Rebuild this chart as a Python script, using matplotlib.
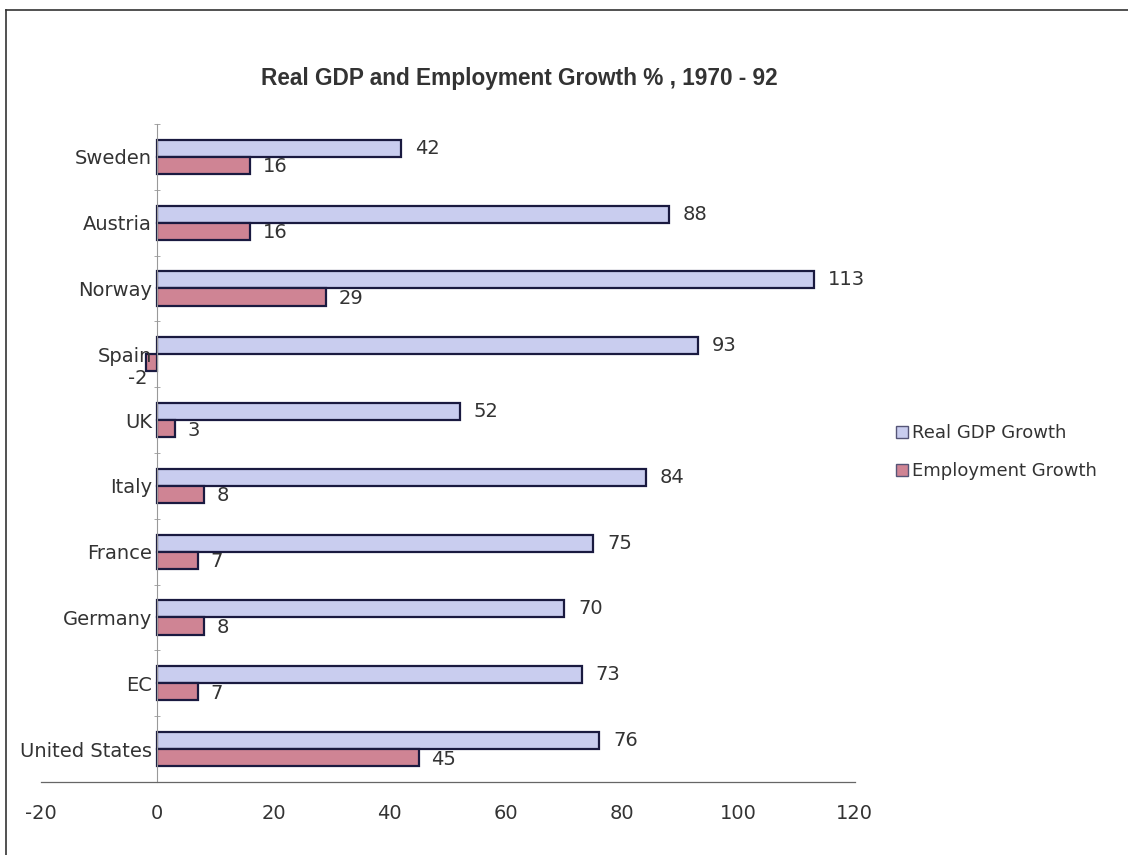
import matplotlib.pyplot as plt
import numpy as np
from matplotlib.lines import Line2D

countries = ['Sweden', 'Austria', 'Norway', 'Spain', 'UK', 'Italy',
             'France', 'Germany', 'EC', 'United States']
gdp_growth = [42, 88, 113, 93, 52, 84, 75, 70, 73, 76]
emp_growth = [16, 16, 29, -2, 3, 8, 7, 8, 7, 45]
x_ticks = [-20, 0, 20, 40, 60, 80, 100, 120]

plt.rcParams['font.family'] = ['DejaVu Sans']

fig = plt.figure(figsize=(11.28, 8.55), dpi=100)
ax = fig.add_axes([0.0364, 0.0854, 0.7214, 0.7696])

# spine position first: moving it resets the ticks
for s in ['top', 'right']:
    ax.spines[s].set_visible(False)
ax.spines['left'].set_position(('data', 0))
ax.spines['left'].set_color('#999999')
ax.spines['left'].set_linewidth(0.8)
ax.spines['bottom'].set_linestyle((0, (1.5, 1)))
ax.spines['bottom'].set_color('#666666')
ax.spines['bottom'].set_linewidth(0.9)

n = len(countries)
y = np.arange(n)[::-1]  # Sweden on top
h = 0.26

gdp_col = '#c9cdef'
emp_col = '#cf8494'
edge = '#1a1a40'

ax.barh(y + h / 2, gdp_growth, height=h, color=gdp_col, edgecolor=edge, linewidth=1.6)
ax.barh(y - h / 2, emp_growth, height=h, color=emp_col, edgecolor=edge, linewidth=1.6)

txt = '#333333'
for yi, v in zip(y, gdp_growth):
    ax.annotate(str(v), (v, yi + h / 2), xytext=(10, 0), textcoords='offset points',
                va='center', ha='left', fontsize=14, color=txt)
for yi, v in zip(y, emp_growth):
    if v < 0:
        ax.annotate(str(v), (v, yi - h / 2), xytext=(-6, -11), textcoords='offset points',
                    va='center', ha='center', fontsize=14, color=txt)
    else:
        ax.annotate(str(v), (v, yi - h / 2), xytext=(9, -1), textcoords='offset points',
                    va='center', ha='left', fontsize=14, color=txt)

ax.set_xlim(-20, 120)
ax.set_ylim(-0.5, n - 0.5)
ax.set_xticks(x_ticks)
ax.set_xticklabels([str(t) for t in x_ticks])
ax.tick_params(axis='x', length=0, pad=16, labelsize=14, labelcolor=txt)
ax.set_yticks(y)
ax.set_yticklabels(countries)
ax.tick_params(axis='y', which='major', length=0, pad=4, labelsize=14, labelcolor=txt)
ax.set_yticks(np.arange(n + 1) - 0.5, minor=True)
ax.tick_params(axis='y', which='minor', length=5, direction='inout', color='#999999')

fig.text(0.46, 0.908, 'Real GDP and Employment Growth % , 1970 - 92',
         ha='center', va='center', fontsize=16.3, fontweight='bold', color='#333333',
         family=['Liberation Sans', 'DejaVu Sans'], fontstretch='normal')

handles = [
    Line2D([], [], marker='s', linestyle='none', markersize=9,
           markerfacecolor=gdp_col, markeredgecolor='#555577'),
    Line2D([], [], marker='s', linestyle='none', markersize=9,
           markerfacecolor=emp_col, markeredgecolor='#555577'),
]
fig.legend(handles, ['Real GDP Growth', 'Employment Growth'],
           loc='center left', bbox_to_anchor=(0.792, 0.471), frameon=False,
           fontsize=13, handlelength=0.9, handletextpad=0.15, labelspacing=1.1,
           borderpad=0, borderaxespad=0, labelcolor='#333333')

# outer frame of the pasted chart
fig.add_artist(Line2D([6 / 1128, 6 / 1128], [0, 1 - 10 / 855], color='#333333', linewidth=1.2))
fig.add_artist(Line2D([6 / 1128, 1], [1 - 10 / 855, 1 - 10 / 855], color='#333333', linewidth=1.2))

fig.savefig('out.png', dpi=100)
